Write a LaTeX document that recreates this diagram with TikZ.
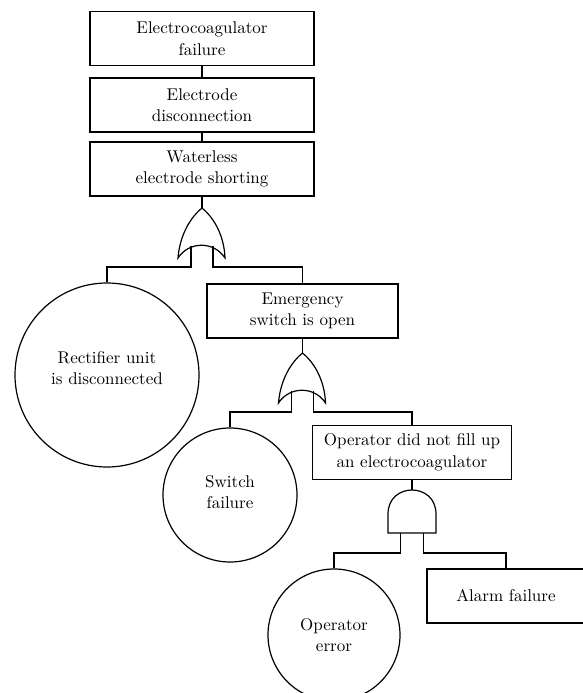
\documentclass[tikz,border=0pt]{standalone}
\usepackage{fontspec}
\setmainfont{lmroman10-regular.otf}
\usepackage{tikz}
\usetikzlibrary{positioning}

\tikzset{
	event/.style={draw,rectangle,align=center,inner sep=0pt,minimum height=54},
	basic/.style={draw,circle,align=center,inner sep=0pt},
	orgate/.pic={
		\draw (-24,50) .. controls (-22,25) and (-10,8) .. (0,0)
			.. controls (10,8) and (22,25) .. (23,50)
			.. controls (12,33) and (-13,33) .. cycle;
		\coordinate (-top) at (0,0);
		\coordinate (-a) at (-11,38);
		\coordinate (-b) at (11,38);
		\coordinate (-la) at (-11,59);
		\coordinate (-lb) at (11,59);
	},
	andgate/.pic={
		\draw (-24,43) -- (-24,24) .. controls (-24,-8) and (24,-8) .. (24,24) -- (24,43) -- cycle;
		\coordinate (-top) at (0,0);
		\coordinate (-a) at (-11.5,43);
		\coordinate (-b) at (11.5,43);
		\coordinate (-la) at (-11.5,63);
		\coordinate (-lb) at (11.5,63);
	}
}

\begin{document}
\begin{tikzpicture}[x=1pt,y=-1pt,line width=1.2pt,font=\fontsize{17}{21.5}\selectfont]
\useasboundingbox (0,0) rectangle (583,693);
\begin{scope}
\clip (0,0) rectangle (583,693);
% top events
\node[event,minimum width=224] (top) at (202,38.5) {Electrocoagulator\\failure};
\node[event,minimum width=224] (disc) at (202,105) {Electrode\\disconnection};
\node[event,minimum width=224] (short) at (202,169) {Waterless\\electrode shorting};
\draw (top) -- (disc);
\draw (disc) -- (short);
\pic (g1) at (202,208) {orgate};
\draw (short) -- (g1-top);
% first level
\node[basic,minimum size=184] (rect) at (107,375) {Rectifier unit\\is disconnected\\[-8pt]};
\node[event,minimum width=191] (emer) at (302.5,311) {Emergency\\switch is open};
\draw (g1-a) -- (g1-la) -| (rect.north);
\draw (g1-b) -- (g1-lb) -| (emer.north);
\pic (g2) at (302.5,353) {orgate};
\draw (emer) -- (g2-top);
% second level
\node[basic,minimum size=134] (switch) at (230,495) {Switch\\failure\\[-15.5pt]};
\node[event,minimum width=199] (fill) at (412,452.5) {Operator did not fill up\\an electrocoagulator};
\draw (g2-a) -- (g2-la) -| (switch.north);
\draw (g2-b) -- (g2-lb) -| (fill.north);
\pic (g3) at (412,490) {andgate};
\draw (fill) -- (g3-top);
% third level
\node[basic,minimum size=132] (oper) at (334,635) {Operator\\error};
\node[event,minimum width=158] (alarm) at (506,596) {Alarm failure};
\draw (g3-a) -- (g3-la) -| (oper.north);
\draw (g3-b) -- (g3-lb) -| (alarm.north);
\end{scope}
\end{tikzpicture}
\end{document}
